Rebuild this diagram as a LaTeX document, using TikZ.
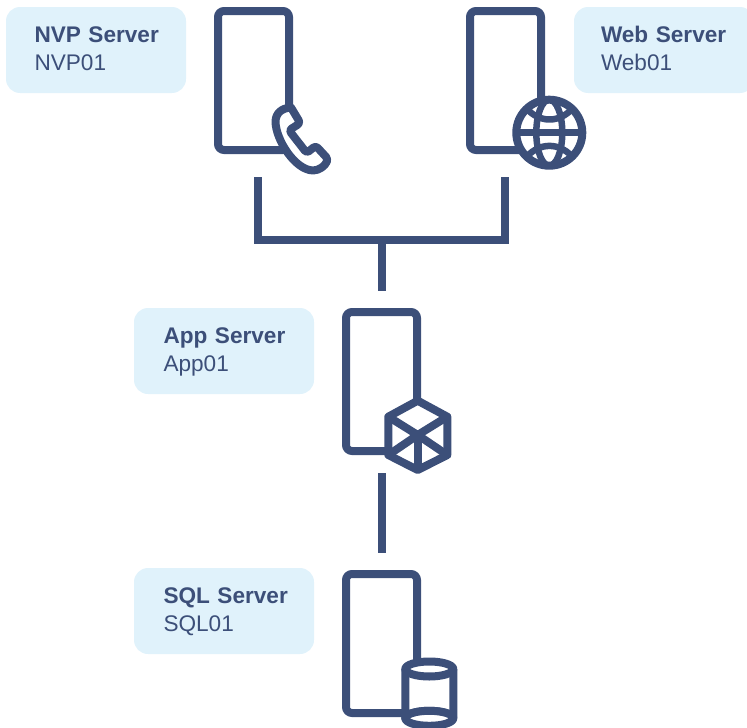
\documentclass[tikz,border=0pt]{standalone}
\usepackage{fontspec}
\setmainfont{Liberation Sans}
\definecolor{serverblue}{HTML}{3C4F79}
\definecolor{labelblue}{HTML}{E0F2FB}
\begin{document}
\begin{tikzpicture}[x=1pt, y=-1pt,
        server/.style={draw=serverblue, line width=8pt, rounded corners=6pt, minimum width=71pt, minimum height=139pt, inner sep=0pt, outer sep=0pt},
        label/.style={fill=labelblue, text=serverblue, rounded corners=14pt, minimum width=180pt, minimum height=86pt, text width=180pt-2*#1, inner xsep=#1, inner ysep=0pt, text height=16.2pt, text depth=31pt, align=left, font=\fontsize{22.6}{28}\selectfont},
        wire/.style={draw=serverblue, line width=7.5pt},
        icon/.style={draw=serverblue, fill=white, line width=8pt, line join=round},
        iconthin/.style={draw=serverblue, line width=6.5pt, line join=round}]
        \useasboundingbox (0,0) rectangle (747,728);

        \node[server] (nvp) at (253.5,80.5) {};
        \node[server] (web) at (505.5,80.5) {};
        \node[server] (app) at (381.5,381.5) {};
        \node[server] (sql) at (381.5,643.5) {};

        \node[label=28.5pt] (nvplabel) at (96,50) {\textbf{NVP~Server}\\NVP01};
        \node[label=27pt] (weblabel) at (664,50) {\textbf{Web~Server}\\Web01};
        \node[label=29.5pt] (applabel) at (224,351) {\textbf{App~Server}\\App01};
        \node[label=29.5pt] (sqllabel) at (224,611) {\textbf{SQL~Server}\\SQL01};

        \coordinate (nvpdrop) at (258,177);
        \coordinate (webdrop) at (505,177);
        \coordinate (bus) at (382,240);
        \coordinate (apptop) at (382,291);
        \coordinate (appdrop) at (382,473);
        \coordinate (sqltop) at (382,553);
        \draw[wire] (nvpdrop) |- (bus) -| (webdrop);
        \draw[wire] (bus) -- (apptop);
        \draw[wire] (appdrop) -- (sqltop);

        \draw[icon] (291,107.5) [rounded corners=3pt] -- (300.3,123) -- (289,130.3) -- (306.7,153) -- (315.7,145.7) -- (328,159)
            [sharp corners] .. controls (325,166) and (319,170.5) .. (313,170.5)
            .. controls (295,170) and (276,140) .. (275.5,122)
            .. controls (275.5,113) and (282,108) .. (291,107.5) -- cycle;

        \draw[icon] (549.3,132.7) circle (33);
        \draw[iconthin] (516.3,132.7) -- (582.3,132.7);
        \draw[iconthin] (549.3,132.7) ellipse (13 and 33);
        \draw[iconthin] (527,109) .. controls (540,123) and (559,123) .. (572,109);
        \draw[iconthin] (527,156.4) .. controls (540,142.4) and (559,142.4) .. (572,156.4);

        \draw[icon] (417.7,400.7) -- (447.3,416.7) -- (447.3,455) -- (417.7,470) -- (388.3,455) -- (388.3,416.7) -- cycle;
        \draw[icon, fill=none] (388.3,416.7) -- (417.7,435) -- (447.3,416.7);
        \draw[icon, fill=none] (388.3,455) -- (417.7,435) -- (447.3,455);
        \draw[icon, fill=none] (417.7,435) -- (417.7,470);

        \draw[icon] (405.3,669) -- (405.3,718.3) arc (180:360:24 and 7.5) -- (453.3,669);
        \draw[icon] (429.3,669) ellipse (24 and 7.5);
        \draw[icon] (429.3,718.3) ellipse (24 and 7.5);
    \end{tikzpicture}
\end{document}
